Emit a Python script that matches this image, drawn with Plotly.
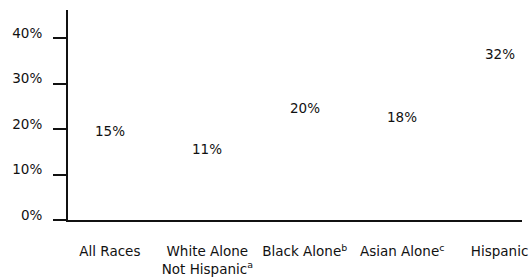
import plotly.graph_objects as go

categories = ["All Races", "White Alone<br>Not Hispanic<sup>a</sup>", "Black Alone<sup>b</sup>",
              "Asian Alone<sup>c</sup>", "Hispanic"]
values = [15, 11, 20, 18, 32]
value_labels = ["15%", "11%", "20%", "18%", "32%"]
y_ticks = [0, 10, 20, 30, 40]
y_tick_labels = ["0%", "10%", "20%", "30%", "40%"]

xpos = list(range(len(categories)))
font = dict(family="DejaVu Sans, sans-serif", size=13.5, color="#111")

fig = go.Figure()
fig.add_trace(go.Bar(x=xpos, y=values, width=0.53, marker=dict(color="white", line=dict(width=0)),
                     hoverinfo="skip", showlegend=False))
for x, v, t in zip(xpos, values, value_labels):
    fig.add_annotation(x=x, y=v, text=t, showarrow=False, yanchor="bottom", yshift=11, font=font)

fig.update_layout(
    width=532, height=279,
    margin=dict(l=68, r=10, t=10, b=59, autoexpand=False),
    paper_bgcolor="white", plot_bgcolor="white",
    font=font,
    xaxis=dict(range=[-0.43, 4.23], tickvals=xpos, ticktext=categories, showgrid=False,
               zeroline=False, showline=True, linecolor="#111", linewidth=2, ticks="",
               ticklabelstandoff=18, automargin=False, tickfont=font),
    yaxis=dict(range=[0, 46.2], tickvals=y_ticks, ticktext=y_tick_labels, showgrid=False,
               zeroline=False, showline=True, linecolor="#111", linewidth=2, ticks="outside",
               ticklen=13, tickwidth=2, tickcolor="#111", ticklabelstandoff=8,
               ticklabelshift=-5, automargin=False, tickfont=font),
)
fig.write_html("out.html", config={"displayModeBar": False},
               post_script="document.body.style.margin='0';")
